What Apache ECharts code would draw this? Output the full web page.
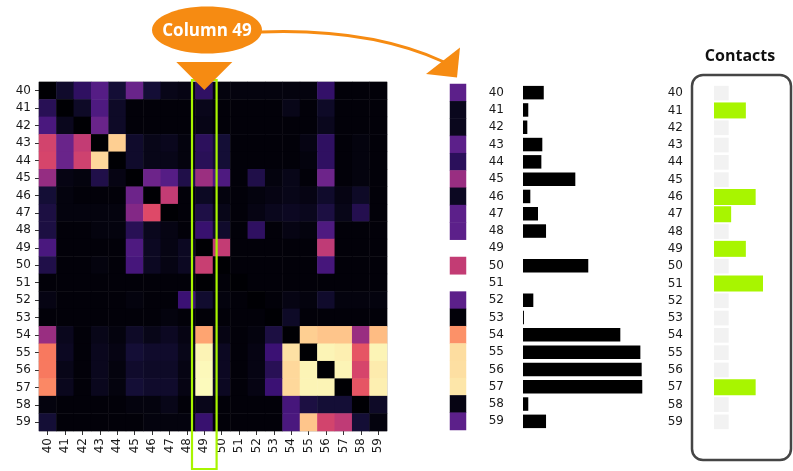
<!DOCTYPE html>
<html>
<head>
<meta charset="utf-8">
<script src="https://cdn.jsdelivr.net/npm/echarts@6/dist/echarts.min.js"></script>
<style>
  html, body { margin: 0; padding: 0; background: #ffffff; }
  #chart { width: 793px; height: 471px; }
</style>
</head>
<body>
<div id="chart"></div>
<script>
// Residue numbers used on every axis
const residues = ['40','41','42','43','44','45','46','47','48','49',
                  '50','51','52','53','54','55','56','57','58','59'];

// Pairwise map, one row per residue (row = y, column = x), scaled 0..1
const contactMap = [
  [0.00,0.08,0.17,0.27,0.10,0.32,0.10,0.04,0.03,0.173,0.02,0.02,0.02,0.02,0.02,0.02,0.18,0.01,0.01,0.01],
  [0.15,0.00,0.07,0.25,0.07,0.01,0.01,0.01,0.01,0.044,0.01,0.01,0.01,0.01,0.04,0.01,0.07,0.01,0.01,0.01],
  [0.24,0.05,0.00,0.32,0.07,0.01,0.01,0.01,0.01,0.036,0.01,0.01,0.01,0.01,0.01,0.01,0.05,0.01,0.01,0.01],
  [0.57,0.32,0.53,0.00,0.90,0.08,0.04,0.05,0.02,0.161,0.10,0.01,0.01,0.01,0.01,0.03,0.17,0.01,0.02,0.01],
  [0.58,0.32,0.56,0.92,0.00,0.08,0.04,0.04,0.02,0.153,0.10,0.01,0.01,0.01,0.01,0.02,0.17,0.01,0.02,0.01],
  [0.42,0.03,0.02,0.13,0.03,0.00,0.33,0.27,0.13,0.436,0.25,0.01,0.13,0.02,0.04,0.01,0.33,0.01,0.02,0.01],
  [0.10,0.02,0.01,0.01,0.01,0.33,0.00,0.53,0.01,0.061,0.02,0.01,0.02,0.03,0.04,0.03,0.08,0.03,0.07,0.01],
  [0.12,0.02,0.02,0.02,0.02,0.38,0.60,0.00,0.01,0.125,0.04,0.01,0.03,0.05,0.06,0.05,0.12,0.04,0.14,0.01],
  [0.12,0.01,0.01,0.02,0.02,0.15,0.05,0.03,0.01,0.192,0.08,0.01,0.17,0.01,0.03,0.02,0.25,0.01,0.01,0.01],
  [0.24,0.01,0.01,0.01,0.01,0.25,0.06,0.03,0.06,0.000,0.53,0.01,0.01,0.01,0.01,0.01,0.52,0.01,0.01,0.01],
  [0.13,0.01,0.01,0.02,0.01,0.23,0.06,0.03,0.06,0.544,0.00,0.01,0.01,0.01,0.01,0.01,0.23,0.01,0.01,0.01],
  [0.01,0.01,0.01,0.01,0.01,0.01,0.01,0.01,0.01,0.000,0.01,0.00,0.01,0.01,0.01,0.01,0.01,0.01,0.01,0.01],
  [0.03,0.01,0.01,0.01,0.01,0.02,0.01,0.01,0.20,0.086,0.02,0.01,0.00,0.01,0.03,0.02,0.08,0.02,0.02,0.02],
  [0.01,0.01,0.01,0.01,0.01,0.01,0.01,0.02,0.01,0.008,0.01,0.01,0.01,0.00,0.07,0.01,0.01,0.01,0.01,0.01],
  [0.43,0.05,0.01,0.04,0.02,0.07,0.04,0.06,0.03,0.811,0.03,0.01,0.02,0.12,0.00,0.90,0.88,0.88,0.43,0.86],
  [0.72,0.06,0.01,0.05,0.03,0.10,0.08,0.08,0.04,0.978,0.06,0.01,0.03,0.20,0.94,0.00,0.98,0.97,0.63,0.98],
  [0.72,0.04,0.01,0.05,0.02,0.08,0.07,0.07,0.03,0.989,0.06,0.01,0.03,0.15,0.92,0.98,0.00,0.98,0.58,0.96],
  [0.75,0.05,0.01,0.05,0.02,0.10,0.08,0.08,0.03,0.994,0.06,0.01,0.03,0.20,0.92,0.98,0.98,0.00,0.63,0.97],
  [0.02,0.01,0.01,0.01,0.01,0.02,0.02,0.04,0.01,0.044,0.01,0.01,0.01,0.01,0.23,0.12,0.10,0.10,0.00,0.07],
  [0.10,0.01,0.01,0.01,0.01,0.01,0.02,0.02,0.02,0.192,0.01,0.01,0.01,0.01,0.24,0.88,0.57,0.52,0.10,0.02]
];

// Colour strip for the selected column (null = no cell)
const stripValues = [0.29,0.05,0.05,0.29,0.16,0.43,0.06,0.29,0.29,null,
                     0.53,null,0.29,0.01,0.77,0.93,0.935,0.95,0.03,0.29];

// Scores of the selected column, drawn as black bars
const columnScores = [0.173,0.044,0.036,0.161,0.153,0.436,0.061,0.125,0.192,null,
                      0.544,null,0.086,0.008,0.811,0.978,0.989,0.994,0.044,0.192];

// Contact strengths (null = no contact) and the grey baseline tile
const contactValues = [null,0.65,null,null,null,null,0.85,0.35,null,0.65,
                       null,1.0,null,null,null,null,null,0.85,null,null];
const baselineValue = 0.3;

const selectedColumn = '49';

// Magma-like ramp, slightly cooler in the purple range
const magma = ['#000004','#140e36','#3b1174','#60228c','#8c2a84','#b73779',
               '#de4968','#f7705c','#fe9f6d','#fecf92','#fcfdbf'];

const ORANGE = '#f68b12';
const LIME = '#a8f500';
const FONT = 'DejaVu Sans';

// Panel geometry
const HM = { left: 39, top: 82, width: 348, height: 349 };
const ROWS = { top: 84, height: 346 };

const heatData = [];
contactMap.forEach((row, y) => row.forEach((v, x) => heatData.push([x, y, v])));
const stripData = [];
stripValues.forEach((v, y) => { if (v !== null) stripData.push([0, y, v]); });

const catY = (gridIndex, showLabels, margin) => ({
  type: 'category', data: residues, gridIndex, inverse: true,
  axisLine: { show: false }, axisTick: { show: false }, splitLine: { show: false },
  axisLabel: { show: showLabels, fontFamily: FONT, fontSize: 12, color: '#1a1a1a', margin: margin || 8 }
});

const option = {
  animation: false,
  backgroundColor: '#ffffff',
  grid: [
    { left: HM.left, top: HM.top, width: HM.width, height: HM.height,
      show: true, borderColor: '#b8b8b8', borderWidth: 1, backgroundColor: 'transparent' },
    { left: 450, top: ROWS.top, width: 16, height: ROWS.height },
    { left: 523, top: ROWS.top, width: 120, height: ROWS.height },
    { left: 714, top: ROWS.top + 0.5, width: 49, height: ROWS.height }
  ],
  xAxis: [
    { type: 'category', data: residues, gridIndex: 0, position: 'bottom',
      axisLine: { show: false },
      axisTick: { show: true, alignWithLabel: true, length: 4, lineStyle: { color: '#333' } },
      axisLabel: { rotate: 90, fontFamily: FONT, fontSize: 12, color: '#1a1a1a', margin: 7 },
      splitLine: { show: false } },
    { type: 'category', data: [selectedColumn], gridIndex: 1, show: false },
    { type: 'value', gridIndex: 2, min: 0, max: 1, show: false },
    { type: 'value', gridIndex: 3, min: 0, max: 1, show: false }
  ],
  yAxis: [
    { type: 'category', data: residues, gridIndex: 0, inverse: true,
      axisLine: { show: false },
      axisTick: { show: true, alignWithLabel: true, length: 4, lineStyle: { color: '#333' } },
      axisLabel: { fontFamily: FONT, fontSize: 12, color: '#1a1a1a', margin: 8 },
      splitLine: { show: false } },
    catY(1, false),
    catY(2, true, 19),
    catY(3, true, 31),
    catY(3, false)
  ],
  visualMap: [
    { type: 'continuous', seriesIndex: 0, min: 0, max: 1, show: false, inRange: { color: magma } },
    { type: 'continuous', seriesIndex: 1, min: 0, max: 1, show: false, inRange: { color: magma } }
  ],
  series: [
    { type: 'heatmap', xAxisIndex: 0, yAxisIndex: 0, data: heatData, silent: true },
    { type: 'heatmap', xAxisIndex: 1, yAxisIndex: 1, data: stripData, silent: true },
    { type: 'bar', xAxisIndex: 2, yAxisIndex: 2, data: columnScores, barWidth: 13.5,
      itemStyle: { color: '#000000' }, silent: true },
    { type: 'bar', xAxisIndex: 3, yAxisIndex: 3, data: residues.map(() => baselineValue),
      barWidth: 14.7, itemStyle: { color: '#f2f2f2' }, silent: true },
    { type: 'bar', xAxisIndex: 3, yAxisIndex: 4, data: contactValues, barWidth: 16,
      itemStyle: { color: LIME }, silent: true, z: 3 }
  ]
};

const chart = echarts.init(document.getElementById('chart'), null, { renderer: 'canvas' });
chart.setOption(option);

// Annotation layer: column highlight, callout, arrow and contacts frame
const colIdx = residues.indexOf(selectedColumn);
const cellW = HM.width / residues.length;
const colX = HM.left + colIdx * cellW;
const colCenter = colX + cellW / 2;

chart.setOption({
  graphic: [
    { type: 'rect', z: 100,
      shape: { x: colX - 3.6, y: HM.top - 2, width: cellW + 7.2, height: 389 },
      style: { fill: 'none', stroke: LIME, lineWidth: 2.2 } },
    { type: 'polygon', z: 101,
      shape: { points: [[colCenter - 28, 62], [colCenter + 28, 62], [colCenter, 90]] },
      style: { fill: ORANGE } },
    { type: 'ellipse', z: 101,
      shape: { cx: 207, cy: 30, rx: 55, ry: 23.5 },
      style: { fill: ORANGE } },
    { type: 'text', z: 102, x: 207, y: 31,
      style: { text: 'Column ' + selectedColumn, fill: '#ffffff',
               font: 'bold 17px "Open Sans"', textAlign: 'center', textVerticalAlign: 'middle' } },
    { type: 'bezierCurve', z: 101,
      shape: { x1: 261, y1: 32, cpx1: 370, cpy1: 28, x2: 444, y2: 62 },
      style: { stroke: ORANGE, lineWidth: 3, fill: 'none' } },
    { type: 'polygon', z: 101,
      shape: { points: [[426, 74], [460, 47.5], [457, 77.5]] },
      style: { fill: ORANGE } },
    { type: 'rect', z: 100,
      shape: { x: 692, y: 75, width: 99, height: 385, r: 11 },
      style: { fill: 'none', stroke: '#454545', lineWidth: 2.5 } },
    { type: 'text', z: 102, x: 740, y: 56,
      style: { text: 'Contacts', fill: '#111111',
               font: 'bold 16px "Open Sans"', textAlign: 'center', textVerticalAlign: 'middle' } }
  ]
});
</script>
</body>
</html>
